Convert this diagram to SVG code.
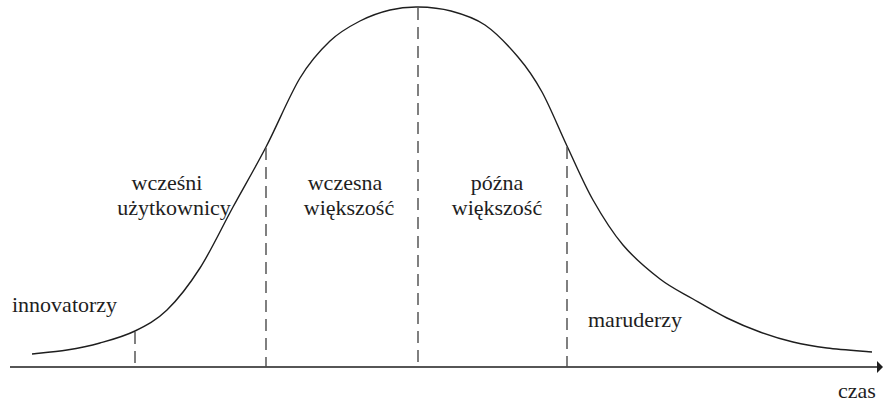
<svg xmlns="http://www.w3.org/2000/svg" width="883" height="405" viewBox="0 0 883 405">
<style>
.curve{fill:none;stroke:#1e1e1e;stroke-width:1.4;stroke-linejoin:round}
.axis{fill:none;stroke:#1e1e1e;stroke-width:1.4}
.dash{fill:none;stroke:#4a4a4a;stroke-width:1.4;stroke-dasharray:12 7}
.lbl{font-family:"Liberation Serif","Times New Roman",serif;font-size:22px;fill:#1e1e1e}
</style>
<rect width="883" height="405" fill="#ffffff"/>
<g id="connectors">
<path id="axis" class="axis" d="M10,367 H878"/>
<polygon points="877,361 883,367 877,373" fill="#1e1e1e"/>
<path id="curve" class="curve" d="M32,354 C37.83,353.33 55.67,351.83 67,350 C78.33,348.17 88.67,346.17 100,343 C111.33,339.83 123.83,336.5 135,331 C146.17,325.5 156.17,320.5 167,310 C177.83,299.5 189,285.17 200,268 C211,250.83 222,227.17 233,207 C244,186.83 254.83,168.5 266,147 C277.17,125.5 289.33,95.67 300,78 C310.67,60.33 320,50.5 330,41 C340,31.5 350,26.17 360,21 C370,15.83 380.33,12.33 390,10 C399.67,7.67 407.83,6.83 418,7 C428.17,7.17 439.83,8 451,11 C462.17,14 473.83,17.33 485,25 C496.17,32.67 508.5,45.83 518,57 C527.5,68.17 533.83,77.17 542,92 C550.17,106.83 558.5,128 567,146 C575.5,164 583.67,183.5 593,200 C602.33,216.5 611.83,231.83 623,245 C634.17,258.17 648.33,270 660,279 C671.67,288 681.83,292.5 693,299 C704.17,305.5 715.83,312.5 727,318 C738.17,323.5 749,328 760,332 C771,336 781.83,339.33 793,342 C804.17,344.67 813.83,346.33 827,348 C840.17,349.67 864.5,351.33 872,352"/>
<path class="dash" d="M135,332 V367"/>
<path class="dash" d="M266,148 V367"/>
<path class="dash" d="M418,8 V367"/>
<path class="dash" d="M567,147 V367"/>
</g>
<g id="innovatorzy"><text class="lbl" x="12" y="312">innovatorzy</text></g>
<g id="wczesni"><text class="lbl" x="167" y="190" text-anchor="middle">wcześni</text><text class="lbl" x="174" y="215" text-anchor="middle">użytkownicy</text></g>
<g id="wczesna"><text class="lbl" x="345" y="190" text-anchor="middle">wczesna</text><text class="lbl" x="349" y="215" text-anchor="middle">większość</text></g>
<g id="pozna"><text class="lbl" x="497" y="190" text-anchor="middle">późna</text><text class="lbl" x="497" y="215" text-anchor="middle">większość</text></g>
<g id="maruderzy"><text class="lbl" x="588" y="327">maruderzy</text></g>
<g id="czas"><text class="lbl" x="838" y="398">czas</text></g>
</svg>
